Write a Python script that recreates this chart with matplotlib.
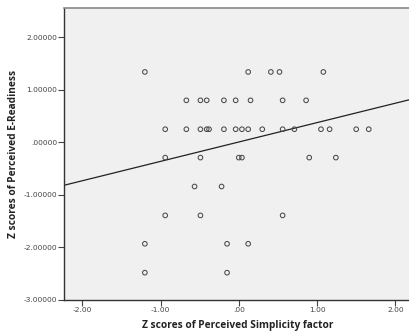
import numpy as np
import matplotlib
matplotlib.use('Agg')
import matplotlib.pyplot as plt
from matplotlib.ticker import FuncFormatter

# z-score levels of perceived e-readiness (y) and the x values on each level
x_vals = [-1.20, 0.12, 0.41, 0.52, 1.08,                               # y = 1.34
          -0.67, -0.49, -0.41, -0.19, -0.04, 0.15, 0.56, 0.86,         # y = 0.80
          -0.94, -0.67, -0.49, -0.41, -0.38, -0.19, -0.04, 0.04, 0.12,
          0.30, 0.56, 0.71, 1.05, 1.16, 1.50, 1.66,                    # y = 0.25
          -0.94, -0.49, 0.00, 0.04, 0.90, 1.24,                        # y = -0.29
          -0.565, -0.22,                                               # y = -0.84
          -0.94, -0.49, 0.56,                                          # y = -1.39
          -1.20, -0.15, 0.12,                                          # y = -1.93
          -1.20, -0.15]                                                # y = -2.48
y_vals = ([1.34] * 5 + [0.80] * 8 + [0.25] * 16 + [-0.29] * 6 +
          [-0.84] * 2 + [-1.39] * 3 + [-1.93] * 3 + [-2.48] * 2)

# fit line
fit_slope = 0.369
fit_intercept = 0.007

x_ticks = [-2, -1, 0, 1, 2]
y_ticks = [-3, -2, -1, 0, 1, 2]

fig = plt.figure(figsize=(4.09, 3.33), dpi=100)
ax = fig.add_axes([64 / 409, 33 / 333, 347 / 409, 292 / 333])
ax.set_facecolor('#f0f0f0')

ax.scatter(x_vals, y_vals, s=11, facecolors='none', edgecolors='#4a4a4a',
           linewidths=0.75, zorder=3)

xl = np.array([-2.233, 2.2])
ax.plot(xl, fit_slope * xl + fit_intercept, color='#222222', lw=0.9, zorder=2)

ax.set_xlim(-2.233, 2.2)
ax.set_ylim(-3, 2.557)
ax.set_xticks(x_ticks)
ax.set_yticks(y_ticks)


def strip_zero(v, digits):
    s = '%.*f' % (digits, v)
    if s.startswith('0.'):
        s = s[1:]
    elif s.startswith('-0.'):
        s = '-' + s[2:]
    return s


ax.xaxis.set_major_formatter(FuncFormatter(lambda v, p: strip_zero(v, 2)))
ax.yaxis.set_major_formatter(FuncFormatter(lambda v, p: strip_zero(v, 5)))
ax.tick_params(labelsize=5.4, colors='#444444', length=4, width=0.8, pad=1)

for side in ['left', 'bottom']:
    ax.spines[side].set_color('#333333')
    ax.spines[side].set_linewidth(1.0)
ax.spines['top'].set_color('#888888')
ax.spines['top'].set_linewidth(1.2)
ax.spines['right'].set_visible(False)

ax.set_xlabel('Z scores of Perceived Simplicity factor', fontsize=7.3,
              family='Open Sans', fontweight='bold', color='#222222', labelpad=5)
ax.set_ylabel('Z scores of Perceived E-Readiness', fontsize=7.3,
              family='Open Sans', fontweight='bold', color='#222222', labelpad=3.5)

plt.savefig('out.png', dpi=100)
